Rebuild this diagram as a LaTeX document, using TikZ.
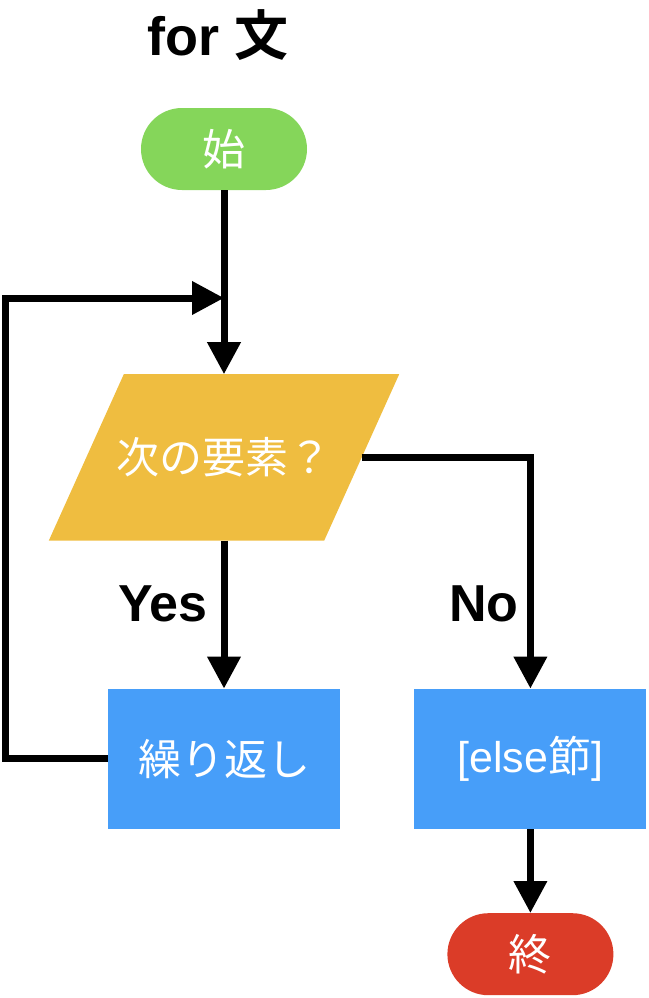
\documentclass[tikz,border=0pt]{standalone}
\usepackage{fontspec}
\setmainfont{Liberation Sans}
\newfontfamily\jpfont[BoldFont={Noto Sans CJK JP Bold}]{Noto Sans CJK JP}
\usetikzlibrary{arrows.meta, positioning, backgrounds}

\definecolor{startgreen}{HTML}{85D65A}
\definecolor{condyellow}{HTML}{EFBD40}
\definecolor{procblue}{HTML}{479EF9}
\definecolor{endred}{HTML}{DB3C28}

\begin{document}
\begin{tikzpicture}[
    x=1pt, y=-1pt,
    inner sep=0pt,
    terminal/.style={rectangle, rounded corners=41pt, minimum width=166pt, minimum height=82pt, text=white, font=\fontsize{43}{48}\selectfont\jpfont},
    decision/.style={rectangle, minimum width=275pt, minimum height=166pt, text=white, font=\fontsize{43}{48}\selectfont\jpfont},
    process/.style={rectangle, fill=procblue, minimum width=232pt, minimum height=140pt, text=white, font=\fontsize{43}{48}\selectfont\jpfont},
    tag/.style={font=\fontsize{52}{58}\selectfont\bfseries},
    arrow/.style={-{Triangle[length=32pt, width=32pt]}, line width=7pt}
]
\useasboundingbox (0,0) rectangle (648,998);

% Title
\node (title) [tag, font=\fontsize{54}{60}\selectfont\bfseries] at (218,35) {for {\jpfont\bfseries 文}};

% Nodes
\node (start) [terminal, fill=startgreen] at (224,149) {始};
\node (next) [decision, below=184pt of start] {次の要素？};
\node (repeat) [process, below=148pt of next] {繰り返し};
\node (elseblk) [process, right=74pt of repeat] {{\rmfamily [else}節{\rmfamily ]}};
\node (finish) [terminal, fill=endred, below=84pt of elseblk] {終};

% Parallelogram behind the decision text
\begin{scope}[on background layer]
\fill[condyellow] ([xshift=-37.5pt]next.south west) -- ([xshift=37.5pt]next.north west)
    -- ([xshift=37.5pt]next.north east) -- ([xshift=-37.5pt]next.south east) -- cycle;
\end{scope}

% Branch labels
\node (yes) [tag] at (163,604) {Yes};
\node (no) [tag] at (484,604) {No};

% Paths
\coordinate (merge) at (224,298);
\draw [arrow] (start) -- (next);
\draw [arrow] (next) -- (repeat);
\draw [arrow] (next.east) -| (elseblk);
\draw [arrow] (elseblk) -- (finish);
\draw [arrow] (repeat.west) -- ++(-102,0) |- (merge);

\end{tikzpicture}
\end{document}
